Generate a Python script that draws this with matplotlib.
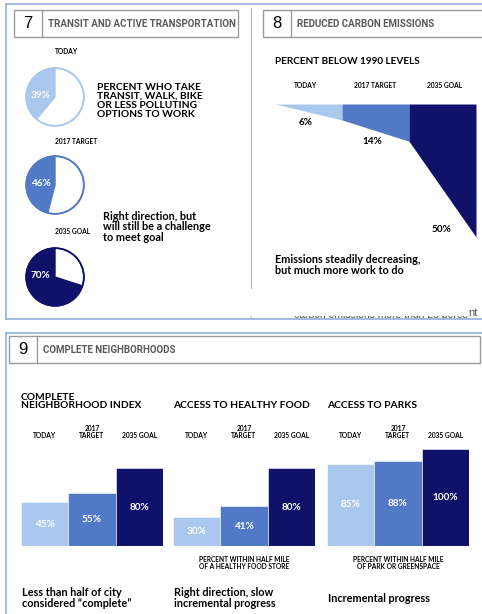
import matplotlib
matplotlib.use("Agg")
import matplotlib.pyplot as plt
from matplotlib.patches import Rectangle, Circle

W, H = 482, 614
LIGHT = "#aac8ee"
MID = "#5279c6"
NAVY = "#10126a"
GRAY = "#9a9a9a"
BORDER = "#8fb0dc"

# ---------------- data ----------------
stage_labels = ["TODAY", "2017 TARGET", "2035 GOAL"]
bar_stage_labels = ["TODAY", "2017\nTARGET", "2035 GOAL"]
transit_share = [39, 46, 70]
carbon_below_1990 = [6, 14, 50]
neighborhood_index = [45, 55, 80]
healthy_food = [30, 41, 80]
parks = [85, 88, 100]

BODY = ["Lato", "DejaVu Sans"]
NARROW = ["Roboto", "DejaVu Sans"]

fig = plt.figure(figsize=(W / 100, H / 100), dpi=100)
bg = fig.add_axes([0, 0, 1, 1])
bg.set_xlim(0, W)
bg.set_ylim(H, 0)
bg.axis("off")


def px_axes(x0, y0, x1, y1):
    return fig.add_axes([x0 / W, 1 - y1 / H, (x1 - x0) / W, (y1 - y0) / H])


def txt(x, y, s, size, color="black", weight="bold", family=BODY, ha="left", va="center", **kw):
    return bg.text(x, y, s, fontsize=size, color=color, fontweight=weight, family=family,
                   ha=ha, va=va, **kw)


# ---------------- frames ----------------
bg.plot([6, 482], [4, 4], color=BORDER, lw=1.2)
bg.plot([6, 6], [4, 319], color=BORDER, lw=1.2)
bg.plot([6, 482], [319, 319], color=BORDER, lw=1.2, zorder=12)
bg.plot([251, 251], [8, 288], color="#b8b8b8", lw=0.8)
bg.plot([251, 251], [316, 319], color="#b8b8b8", lw=0.8, zorder=12)

bg.plot([6, 482], [333, 333], color=BORDER, lw=1.2)
bg.plot([6, 6], [333, 614], color=BORDER, lw=1.2)


def header(x0, x1, y0, y1, sep, num, title):
    bg.add_patch(Rectangle((x0, y0), x1 - x0, y1 - y0, fill=False, ec=GRAY, lw=1))
    bg.plot([sep, sep], [y0, y1], color=GRAY, lw=1)
    bg.text((x0 + sep) / 2, (y0 + y1) / 2 + 0.5, num, fontsize=12, family=["Liberation Sans", "DejaVu Sans"],
            ha="center", va="center", color="black")
    bg.text(sep + 6, (y0 + y1) / 2 + 0.5, title, fontsize=7.0, family=NARROW, fontweight="bold",
            color="#5a5a5a", ha="left", va="center")


header(14, 238, 10, 37, 42, "7", "TRANSIT AND ACTIVE TRANSPORTATION")
header(263, 484, 10, 37, 291, "8", "REDUCED CARBON EMISSIONS")
header(9, 480, 336, 363, 37, "9", "COMPLETE NEIGHBORHOODS")

# ---------------- panel 7: pies ----------------
pie_centers = [(55, 97), (55, 185), (55, 277)]
pie_label_y = [52, 141, 231]
pie_colors = [LIGHT, MID, NAVY]
R = 29
for (cx, cy), ly, lab, val, col in zip(pie_centers, pie_label_y, stage_labels, transit_share, pie_colors):
    txt(cx, ly, lab, 4.8)
    ax = px_axes(cx - R - 1, cy - R - 1, cx + R + 1, cy + R + 1)
    ax.pie([val, 100 - val], colors=[col, "white"], startangle=90, counterclock=True,
           radius=1.0, wedgeprops=dict(edgecolor=col, linewidth=1.0))
    ax.add_patch(Circle((0, 0), 1.0, fill=False, ec=col, lw=1.3))
    ax.set_xlim(-1.04, 1.04)
    ax.set_ylim(-1.04, 1.04)
    ax.set_aspect("equal")
    ax.axis("off")
    ax.text(-0.5, 0.05, f"{val}%", color="white", fontsize=7.2, fontweight="bold",
            family=BODY, ha="center", va="center")

txt(97, 101, "PERCENT WHO TAKE\nTRANSIT, WALK, BIKE\nOR LESS POLLUTING\nOPTIONS TO WORK", 7.4,
    linespacing=1.0)
txt(103, 227, "Right direction, but\nwill still be a challenge\nto meet goal", 7.8, linespacing=0.95)

# ---------------- panel 8: carbon area ----------------
txt(275, 62, "PERCENT BELOW 1990 LEVELS", 7.2)
carbon_x = [305, 375, 445]
for x, lab in zip(carbon_x, stage_labels):
    txt(x, 85, lab, 4.8, ha="center")

cax = px_axes(275, 104, 476, 237)
xs = [0, 1, 2, 3]
ys = [0] + carbon_below_1990
for i, col in enumerate(pie_colors):
    cax.fill_between([xs[i], xs[i + 1]], [0, 0], [ys[i], ys[i + 1]], color=col, lw=0)
cax.set_xlim(0, 3)
cax.set_ylim(max(ys), 0)
cax.axis("off")
lab_pos = [(0.45, 7.0), (1.45, 14.2), (2.48, 47.0)]
for (px, py), v in zip(lab_pos, carbon_below_1990):
    cax.text(px, py, f"{v}%", fontsize=7.2, fontweight="bold",
             family=BODY, ha="center", va="center", color="black")

txt(275, 265, "Emissions steadily decreasing,\nbut much more work to do", 7.8, linespacing=0.95)

# cut-off text at panel bottom: only its lower edge shows, plus the final "nt"
bg.text(468, 320.5, "carbon emissions more than 25 perce", fontsize=7.5, color="#555555",
        family=["Liberation Sans", "DejaVu Sans"], ha="right", va="bottom", zorder=5)
bg.add_patch(Rectangle((256, 296), 212, 19.5, facecolor="white", edgecolor="none", zorder=10))
bg.text(468, 318.5, "nt", fontsize=8, color="#555555", family=["Liberation Sans", "DejaVu Sans"],
        ha="left", va="bottom", zorder=11)

# ---------------- panel 9: bars ----------------
sub_titles = ["COMPLETE\nNEIGHBORHOOD INDEX", "ACCESS TO HEALTHY FOOD", "ACCESS TO PARKS"]
chart_x = [21, 173, 327]
bar_sets = [neighborhood_index, healthy_food, parks]
footnotes = [None, "PERCENT WITHIN HALF MILE\nOF A HEALTHY FOOD STORE",
             "PERCENT WITHIN HALF MILE\nOF PARK OR GREENSPACE"]
captions = ["Less than half of city\nconsidered \u201ccomplete\u201d",
            "Right direction, slow\nincremental progress", "Incremental progress"]
BW = 47.3
BASE = 546
SCALE = 0.97
for x0, title, vals, foot, cap in zip(chart_x, sub_titles, bar_sets, footnotes, captions):
    txt(x0, 410, title, 7.4, va="bottom", linespacing=0.9)
    bax = px_axes(x0, BASE - 100 * SCALE, x0 + 3 * BW, BASE)
    pos = [0, 1, 2]
    bax.bar(pos, vals, width=1.0, color=pie_colors, align="edge", edgecolor="white", linewidth=0.4)
    bax.set_xlim(0, 3)
    bax.set_ylim(0, 100)
    bax.axis("off")
    for p, v in zip(pos, vals):
        bax.text(p + 0.5, v / 2, f"{v}%", color="white", fontsize=7.2, fontweight="bold",
                 family=BODY, ha="center", va="center")
    for p, lab in zip(pos, bar_stage_labels):
        bg.text(x0 + (p + 0.5) * BW, 439, lab, fontsize=4.8, fontweight="bold", family=BODY,
                ha="center", va="bottom", linespacing=0.95)
    if foot:
        txt(x0 + 1.5 * BW, 563, foot, 4.8, ha="center", linespacing=1.1)
    txt(x0 + 1, 598, cap, 7.8, linespacing=0.95)

fig.savefig("out.png", dpi=100)
